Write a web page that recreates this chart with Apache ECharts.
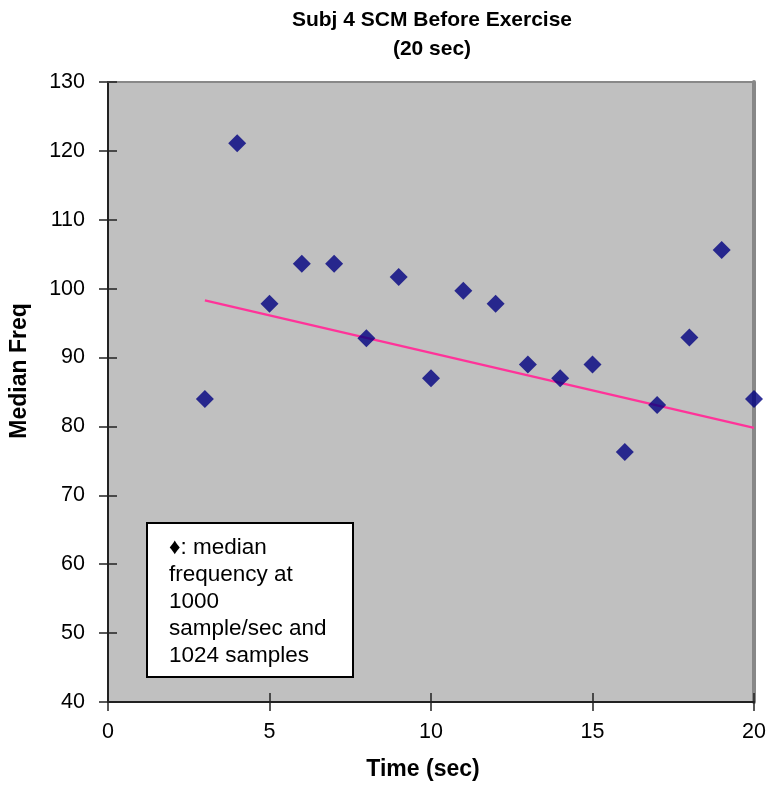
<!DOCTYPE html>
<html>
<head>
<meta charset="utf-8">
<script src="https://cdn.jsdelivr.net/npm/echarts@6/dist/echarts.min.js"></script>
<style>html,body{margin:0;padding:0;background:#fff}#c{width:776px;height:791px}</style>
</head>
<body>
<div id="c"></div>
<script>
const titleText = "Subj 4 SCM Before Exercise\n(20 sec)";
const xName = "Time (sec)";
const yName = "Median Freq";
const times = [3, 4, 5, 6, 7, 8, 9, 10, 11, 12, 13, 14, 15, 16, 17, 18, 19, 20];
const medianFreq = [84.0, 121.1, 97.8, 103.6, 103.6, 92.8, 101.7, 87.0, 99.7, 97.8, 89.0, 87.0, 89.0, 76.3, 83.1, 92.9, 105.6, 84.0];
const trendX = [3, 20];
const trendY = [98.3, 79.8];
const legendLines = ["\u2666: median", "frequency at", "1000", "sample/sec and", "1024 samples"];

const FONT = "Liberation Sans";
const chart = echarts.init(document.getElementById('c'), null, {renderer: 'canvas'});
const yBase = {type: 'value', min: 40, max: 130, interval: 10, splitLine: {show: false}};
const xBase = {type: 'value', min: 0, max: 20, interval: 5, splitLine: {show: false}};
chart.setOption({
  animation: false,
  backgroundColor: '#ffffff',
  textStyle: {fontFamily: FONT},
  title: {
    text: titleText, left: 427, top: 1, textAlign: 'center',
    textStyle: {fontFamily: FONT, fontWeight: 'bold', fontSize: 21, lineHeight: 29, color: '#000'}
  },
  grid: {left: 108, right: 22, top: 82, bottom: 89, containLabel: false, outerBoundsMode: 'none',
    show: true, backgroundColor: '#c0c0c0', borderColor: '#888', borderWidth: 2},
  xAxis: [
    Object.assign({}, xBase, {
      position: 'bottom',
      name: xName, nameLocation: 'middle', nameGap: 56,
      nameTextStyle: {fontFamily: FONT, fontWeight: 'bold', fontSize: 23, color: '#000', padding: [0, 16, 0, 0]},
      axisLine: {show: true, onZero: false, lineStyle: {color: '#222', width: 2}},
      axisTick: {show: true, inside: false, length: 9, lineStyle: {color: '#222', width: 1.5}},
      axisLabel: {fontFamily: FONT, fontSize: 21.5, color: '#000', margin: 19}
    }),
    Object.assign({}, xBase, {
      position: 'bottom',
      axisLine: {show: false, onZero: false},
      axisTick: {show: true, inside: true, length: 9, lineStyle: {color: '#222', width: 1.5}},
      axisLabel: {show: false}
    }),
    Object.assign({}, xBase, {
      position: 'top',
      axisLine: {show: true, onZero: false, lineStyle: {color: '#888', width: 2}},
      axisTick: {show: false}, axisLabel: {show: false}
    })
  ],
  yAxis: [
    Object.assign({}, yBase, {
      position: 'left',
      name: yName, nameLocation: 'middle', nameGap: 77, nameRotate: 90,
      nameTextStyle: {fontFamily: FONT, fontWeight: 'bold', fontSize: 23, color: '#000', padding: [0, 0, 0, 42]},
      axisLine: {show: true, onZero: false, lineStyle: {color: '#222', width: 2}},
      axisTick: {show: true, inside: false, length: 9, lineStyle: {color: '#222', width: 1.5}},
      axisLabel: {fontFamily: FONT, fontSize: 21.5, color: '#000', margin: 23}
    }),
    Object.assign({}, yBase, {
      position: 'left',
      axisLine: {show: false, onZero: false},
      axisTick: {show: true, inside: true, length: 9, lineStyle: {color: '#222', width: 1.5}},
      axisLabel: {show: false}
    }),
    Object.assign({}, yBase, {
      position: 'right',
      axisLine: {show: true, onZero: false, lineStyle: {color: '#888', width: 4}},
      axisTick: {show: false}, axisLabel: {show: false}
    })
  ],
  series: [
    {
      type: 'line', xAxisIndex: 0, yAxisIndex: 0,
      data: trendX.map((x, i) => [x, trendY[i]]),
      showSymbol: false, symbol: 'none',
      lineStyle: {color: '#ff3399', width: 2.2}, z: 3
    },
    {
      type: 'scatter', xAxisIndex: 0, yAxisIndex: 0,
      data: times.map((t, i) => [t, medianFreq[i]]),
      symbol: 'diamond', symbolSize: [18, 18],
      itemStyle: {color: '#000080'}, z: 4
    }
  ],
  graphic: [
    {
      type: 'group', left: 146, top: 522, z: 10,
      children: [
        {type: 'rect', shape: {x: 0, y: 0, width: 206, height: 154}, style: {fill: '#fff', stroke: '#000', lineWidth: 2}},
        {type: 'text', x: 22, y: 11, style: {text: legendLines.join('\n'), font: '22.5px "Liberation Sans"', lineHeight: 27, fill: '#000'}}
      ]
    }
  ]
});
</script>
</body>
</html>
